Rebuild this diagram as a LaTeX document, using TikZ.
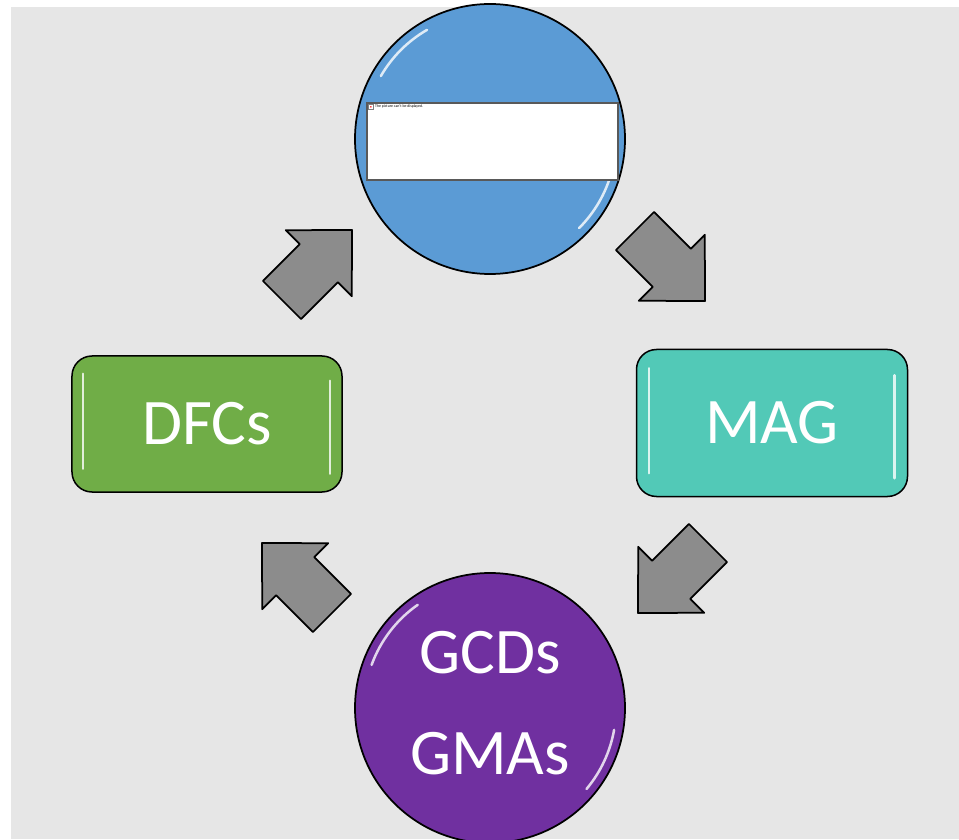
\documentclass[tikz,border=0pt]{standalone}
\usepackage{fontspec}
\setmainfont{Carlito}
\usetikzlibrary{positioning}
\definecolor{bgGray}{RGB}{230,230,230}
\definecolor{topBlue}{RGB}{91,155,213}
\definecolor{dfcGreen}{RGB}{112,173,71}
\definecolor{magTeal}{RGB}{82,201,183}
\definecolor{gcdPurple}{RGB}{112,48,160}
\definecolor{arrGray}{RGB}{140,140,140}
\tikzset{
  blockarrow/.pic={
    \draw[arrowbody] (-49.5,-27) -- (2.5,-27) -- (2.5,-46.7) -- (49.5,0)
      -- (2.5,46.7) -- (2.5,27) -- (-49.5,27) -- cycle;
  }
}

\begin{document}
\begin{tikzpicture}[
  x=0.2mm, y=0.2mm,
  ball/.style={circle, draw=black, line width=0.35mm, minimum size=54mm, inner sep=0pt},
  balltext/.style={text=white, align=center, font=\fontsize{37}{57.5}\selectfont},
  pill/.style={rectangle, rounded corners=4mm, draw=black, line width=0.3mm, text=white, font=\fontsize{37}{44}\selectfont},
  arrowbody/.style={fill=arrGray, draw=black, line width=0.35mm, line join=round},
  gloss/.style={white, line width=0.5mm, line cap=round, opacity=0.8}
]
  \useasboundingbox (0,0) rectangle (959,839);
  \fill[bgGray] (11,0) rectangle (959,832);

  % Top circle with missing picture
  \node[ball, fill=topBlue] (top) at (490,700) {};
  \draw[gloss] (top.center) ++(120:126) arc[start angle=120, end angle=150, radius=126];
  \draw[gloss] (top.center) ++(-15:126) arc[start angle=-15, end angle=-45, radius=126];
  \node[rectangle, fill=white, draw=gray!70!black, line width=0.25mm,
        minimum width=50.2mm, minimum height=15.4mm, inner sep=0pt] (imgbox) at (492.5,697.5) {};
  \node[rectangle, draw=gray, fill=white, line width=0.1mm, minimum size=0.9mm, inner sep=0pt,
        anchor=north west] (icon) at ([shift={(2,-2)}]imgbox.north west) {};
  \fill[red] (icon.center) circle[radius=0.8];
  \node[right=0.3mm of icon, inner sep=0pt, font=\fontsize{2.2}{2.6}\selectfont] (msg) {The picture can't be displayed.};

  % MAG
  \node[pill, fill=magTeal, minimum width=54.2mm, minimum height=29.4mm] (mag) at (772,416) {MAG};
  \draw[gloss] ([shift={(13,24)}]mag.south west) -- ([shift={(13,129)}]mag.south west);
  \draw[gloss] ([shift={(-14,19)}]mag.south east) -- ([shift={(-14,122)}]mag.south east);

  % GCDs / GMAs
  \node[ball, fill=gcdPurple] (gcd) at (490,131) {};
  \draw[gloss] (gcd.center) ++(125:126) arc[start angle=125, end angle=160, radius=126];
  \draw[gloss] (gcd.center) ++(-10:126) arc[start angle=-10, end angle=-40, radius=126];
  \node[balltext] (gcdlabel) at (490,136) {GCDs\\GMAs};

  % DFCs
  \node[pill, fill=dfcGreen, minimum width=54mm, minimum height=27.2mm] (dfc) at (207,415) {DFCs};
  \draw[gloss] ([shift={(12,24)}]dfc.south west) -- ([shift={(12,119)}]dfc.south west);
  \draw[gloss] ([shift={(-13,19)}]dfc.south east) -- ([shift={(-13,112)}]dfc.south east);

  % Block arrows round the cycle
  \pic[rotate=-45] (toMag) at (670,573) {blockarrow};
  \pic[rotate=-135] (toGcd) at (673,261) {blockarrow};
  \pic[rotate=135] (toDfc) at (297,261) {blockarrow};
  \pic[rotate=45] (toTop) at (317,574) {blockarrow};
\end{tikzpicture}
\end{document}
